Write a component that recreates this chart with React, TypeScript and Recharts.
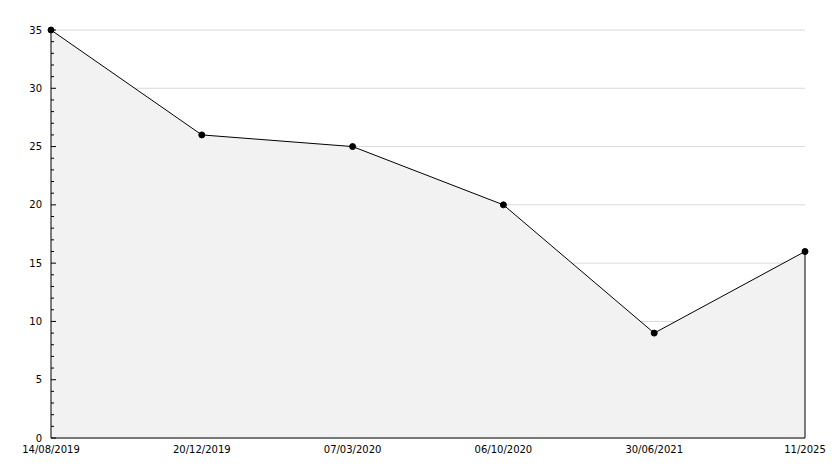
import { Area, AreaChart, CartesianGrid, ReferenceLine, XAxis, YAxis } from 'recharts';

const dates = ['14/08/2019', '20/12/2019', '07/03/2020', '06/10/2020', '30/06/2021', '11/2025'];
const values = [35, 26, 25, 20, 9, 16];
const majorTicks = [0, 5, 10, 15, 20, 25, 30, 35];
// minor ticks every 1 unit
const yTicks = Array.from({ length: 36 }, (_, i) => i);

const chartData = dates.map((date, i) => ({ date, value: values[i] }));
const last = chartData[chartData.length - 1];

const font = 'DejaVu Sans, sans-serif';

function YTick(props: any) {
  const { x, y, payload } = props;
  const isMajor = majorTicks.includes(payload.value);
  return (
    <g>
      <line x1={x} x2={x + (isMajor ? 5 : 3)} y1={y} y2={y} stroke='#000' />
      {isMajor && (
        <text x={x - 9} y={y} dy='0.355em' textAnchor='end' fontSize={10} fontFamily={font} fill='#000'>
          {payload.value}
        </text>
      )}
    </g>
  );
}

export default function App() {
  return (
    <div style={{ position: 'absolute', left: 0, top: 0, background: '#fff' }}>
      <AreaChart width={834} height={468} data={chartData} margin={{ top: 30, right: 29, bottom: 0, left: 0 }}>
        <CartesianGrid vertical={false} stroke='#dadada' horizontalValues={majorTicks} />
        <XAxis
          dataKey='date'
          height={30}
          interval={0}
          tickLine={false}
          tickSize={0}
          tickMargin={8}
          axisLine={{ stroke: '#000' }}
          tick={{ fontSize: 10, fontFamily: font, fill: '#000' }}
        />
        <YAxis
          width={51}
          domain={[0, 35]}
          ticks={yTicks}
          interval={0}
          tickLine={false}
          tickSize={0}
          tickMargin={0}
          axisLine={{ stroke: '#000' }}
          tick={<YTick />}
        />
        <Area
          type='linear'
          dataKey='value'
          stroke='#000'
          strokeWidth={1}
          fill='#f2f2f2'
          fillOpacity={1}
          dot={{ r: 3, fill: '#000', stroke: '#000', strokeWidth: 1 }}
          activeDot={false}
          isAnimationActive={false}
        />
        <ReferenceLine
          segment={[
            { x: last.date, y: 0 },
            { x: last.date, y: last.value },
          ]}
          stroke='#000'
        />
      </AreaChart>
    </div>
  );
}
